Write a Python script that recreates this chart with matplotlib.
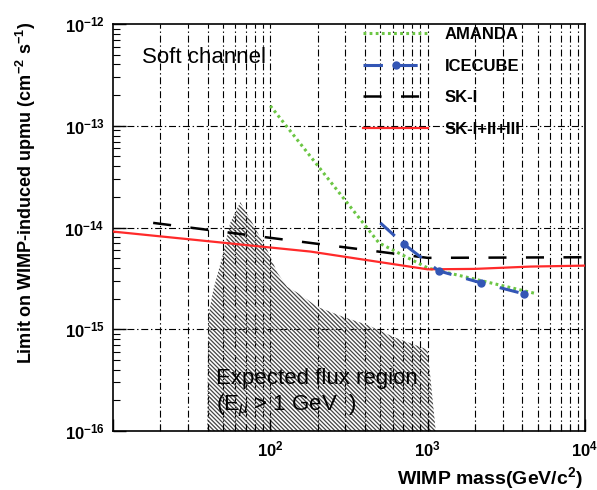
import numpy as np
import matplotlib
matplotlib.use("Agg")
import matplotlib.pyplot as plt
from matplotlib.ticker import FixedLocator, FuncFormatter, NullFormatter

# ---- data ----
amanda_mass = [100, 490, 1000, 4940]
amanda_flux = [1.57e-13, 7.06e-15, 4.0e-15, 2.23e-15]

icecube_mass = [500, 703, 1175, 2180, 4080]
icecube_flux = [1.11e-14, 6.9e-15, 3.75e-15, 2.86e-15, 2.23e-15]

ski_mass = [18, 1000, 10000]
ski_flux = [1.11e-14, 5.03e-15, 5.1e-15]

skall_mass = [10, 180, 1000, 2000, 4500, 10000]
skall_flux = [9.12e-15, 5.80e-15, 3.88e-15, 3.92e-15, 4.13e-15, 4.22e-15]

# expected flux region (polygon outline)
region_mass = [39.7, 40.3, 43.4, 49.4, 55.6, 64.4, 76.8, 95.7, 111, 128, 149,
               172, 199, 292, 415, 607, 1000, 1125]
region_flux = [1e-16, 1.32e-15, 2.44e-15, 5.1e-15, 1.11e-14, 1.78e-14, 1.11e-14,
               6.0e-15, 3.58e-15, 2.61e-15, 2.28e-15, 1.95e-15, 1.66e-15,
               1.32e-15, 1.10e-15, 8.4e-16, 6.3e-16, 1e-16]

labels = ["AMANDA", "ICECUBE", "SK-I", "SK-I+II+III"]
xticks = [10, 100, 1000, 10000]
yticks = [1e-16, 1e-15, 1e-14, 1e-13, 1e-12]

# ---- style ----
plt.rcParams["font.family"] = ["Liberation Sans", "DejaVu Sans"]
plt.rcParams["mathtext.fontset"] = "custom"
plt.rcParams["mathtext.rm"] = "Liberation Sans"
plt.rcParams["mathtext.it"] = "Liberation Sans:italic"
plt.rcParams["mathtext.bf"] = "Liberation Sans:bold"
plt.rcParams["lines.scale_dashes"] = False
plt.rcParams["hatch.linewidth"] = 0.9

fig = plt.figure(figsize=(5.97, 4.90), dpi=100)
ax = fig.add_axes([113 / 597, 1 - 431 / 490, 472 / 597, 407 / 490])

ax.set_xscale("log")
ax.set_yscale("log")
ax.set_xlim(10, 1e4)
ax.set_ylim(1e-16, 1e-12)

# grid: every x tick, y decades
grid_ls = (0, (5, 2, 1, 2))
xgrid = [m * 10 ** e for e in range(1, 4) for m in range(1, 10)][1:]
for xv in xgrid:
    ax.axvline(xv, color="black", lw=0.8, ls=grid_ls, zorder=0)
for yv in yticks[1:-1]:
    ax.axhline(yv, color="black", lw=0.8, ls=grid_ls, zorder=0)

# hatched expected region
ax.fill(region_mass, region_flux, facecolor="none", edgecolor="#454545",
        linewidth=0, hatch="\\" * 8, zorder=1)

ax.plot(amanda_mass, amanda_flux, color="#6cc644", lw=2.2,
        ls=(0, (2, 2.4)), label=labels[0], zorder=3)
ax.plot(icecube_mass, icecube_flux, color="#3356b5", lw=2.2,
        ls=(0, (14, 11)), marker="o", markersize=5, markevery=[1, 2, 3, 4],
        label=labels[1], zorder=4)
ax.plot(ski_mass, ski_flux, color="black", lw=1.8, ls=(0, (13, 14)),
        label=labels[2], zorder=3)
ax.plot(skall_mass, skall_flux, color="#ff2a2a", lw=1.6, label=labels[3],
        zorder=3)

# ticks
def fmt(v, _):
    if 5 < v < 20:
        return ""
    return r"$\mathbf{10^{%d}}$" % int(round(np.log10(v)))

ax.xaxis.set_major_locator(FixedLocator(xticks))
ax.xaxis.set_major_formatter(FuncFormatter(fmt))
ax.xaxis.set_minor_formatter(NullFormatter())
ax.yaxis.set_major_locator(FixedLocator(yticks))
ax.yaxis.set_major_formatter(
    FuncFormatter(lambda v, _: r"$\mathbf{10^{%d}}$" % int(round(np.log10(v)))))
ax.yaxis.set_minor_formatter(NullFormatter())
ax.tick_params(which="both", direction="in", top=False, right=False,
               labelsize=12)
ax.tick_params(which="major", length=9, width=1.0, pad=6)
ax.tick_params(which="minor", length=5, width=0.8)
for s in ax.spines.values():
    s.set_linewidth(1.2)

ax.set_xlabel(r"WIMP mass(GeV/c$^\mathbf{2}$)", fontsize=14, fontweight="bold",
              ha="right")
ax.xaxis.set_label_coords(0.996, -0.085)
fig.text(26 / 597, 1 - 193 / 490,
         r"Limit on WIMP-induced upmu (cm$^{\mathbf{-2}}$ s$^{\mathbf{-1}}$)",
         rotation=90, ha="center", va="center", fontsize=13, fontweight="bold")

ax.text(15.3, 4.7e-13, "Soft channel", fontsize=16, ha="left", va="center",
        zorder=5)
ax.text(45, 3.3e-16, "Expected flux region", fontsize=16, ha="left",
        va="center", zorder=5)
ax.text(45, 1.75e-16, r"(E$_{\mu}$ > 1 GeV  )", fontsize=16, ha="left",
        va="center", zorder=5)

ax.legend(loc="upper left", bbox_to_anchor=(0.53, 0.993), frameon=False,
          borderpad=0, borderaxespad=0, handlelength=3.9, handletextpad=1.0,
          labelspacing=1.0, prop={"weight": "bold", "size": 12}, numpoints=1)

fig.savefig("out.png", dpi=100)
